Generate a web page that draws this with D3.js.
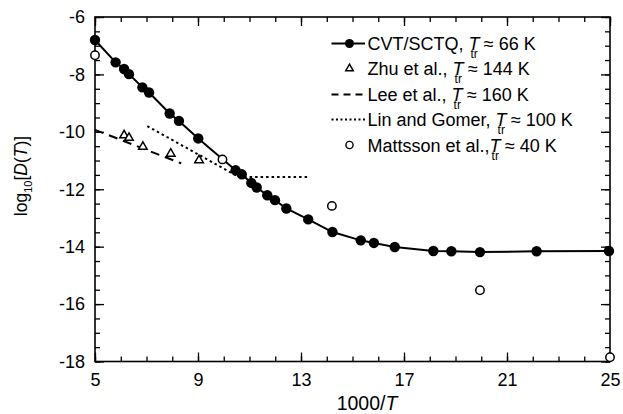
<!DOCTYPE html>
<html><head><meta charset="utf-8">
<script src="https://cdn.jsdelivr.net/npm/d3@7/dist/d3.min.js"></script>
<style>
body{margin:0;background:#fff;}
svg{display:block;font-family:"Liberation Sans",Arial,Helvetica,sans-serif;}
</style></head>
<body><svg id="c" width="623" height="414"></svg>
<script>
// ---- data ----
const cvtX = [5.0, 5.80, 6.13, 6.32, 6.84, 7.10, 7.90, 8.26, 9.01, 10.46, 10.70, 11.07, 11.28, 11.69, 11.99, 12.43, 13.28, 14.22, 15.32, 15.83, 16.64, 18.14, 18.84, 19.95, 22.15, 24.96];
const cvtY = [-6.80, -7.58, -7.81, -7.99, -8.45, -8.63, -9.36, -9.62, -10.23, -11.34, -11.48, -11.78, -11.94, -12.21, -12.38, -12.67, -13.05, -13.49, -13.78, -13.87, -14.01, -14.15, -14.16, -14.19, -14.16, -14.15];
const zhuX = [6.13, 6.32, 6.86, 7.94, 9.04];
const zhuY = [-10.12, -10.21, -10.52, -10.76, -10.99];
const leeX = [5.0, 8.35];
const leeY = [-9.93, -11.10];
const linX = [7.03, 10.58, 13.3];
const linY = [-9.80, -11.57, -11.57];
const matX = [5.0, 9.95, 14.2, 19.95, 25.0];
const matY = [-7.33, -10.96, -12.58, -15.52, -17.85];
const xMajor = [5, 9, 13, 17, 21, 25];
const yMajor = [-6, -8, -10, -12, -14, -16, -18];
const legendNames = ["CVT/SCTQ, ", "Zhu et al., ", "Lee et al., ", "Lin and Gomer, ", "Mattsson et al.,"];
const legendTemps = ["66 K", "144 K", "160 K", "100 K", "40 K"];
const legendKinds = ["cvt", "zhu", "lee", "lin", "mat"];

// ---- layout ----
const svg = d3.select("#c");
const L = 95, R = 610, T = 17, B = 361.5;
const x = d3.scaleLinear().domain([5, 25]).range([L, R]);
const y = d3.scaleLinear().domain([-18, -6]).range([B, T]);
const ink = "#000";
const tickFont = 18;

// frame
svg.append("rect").attr("x", L).attr("y", T).attr("width", R - L).attr("height", B - T)
  .attr("fill", "none").attr("stroke", ink).attr("stroke-width", 1.6);

function styleAxis(g) {
  g.select(".domain").remove();
  g.selectAll(".tick line").attr("stroke", ink).attr("stroke-width", 1.3);
  g.selectAll("text").attr("fill", ink).attr("font-size", tickFont)
    .text(function(){ return d3.select(this).text().replace("\u2212", "-"); });
}
const xMinor = d3.range(5, 25.001, 1);
const yMinor = d3.range(-18, -5.999, 0.5);

// bottom
svg.append("g").attr("transform", `translate(0,${B})`)
  .call(d3.axisBottom(x).tickValues(xMinor).tickSize(-5).tickFormat("")).call(styleAxis);
svg.append("g").attr("transform", `translate(0,${B})`)
  .call(d3.axisBottom(x).tickValues(xMajor).tickSize(-9).tickPadding(12).tickFormat(d3.format("d"))).call(styleAxis);
// top
svg.append("g").attr("transform", `translate(0,${T})`)
  .call(d3.axisTop(x).tickValues(xMinor).tickSize(-5).tickFormat("")).call(styleAxis);
svg.append("g").attr("transform", `translate(0,${T})`)
  .call(d3.axisTop(x).tickValues(xMajor).tickSize(-9).tickFormat("")).call(styleAxis);
// left
svg.append("g").attr("transform", `translate(${L},0)`)
  .call(d3.axisLeft(y).tickValues(yMinor).tickSize(-5).tickFormat("")).call(styleAxis);
svg.append("g").attr("transform", `translate(${L},0)`)
  .call(d3.axisLeft(y).tickValues(yMajor).tickSize(-9).tickPadding(10).tickFormat(d3.format("d"))).call(styleAxis);
// right
svg.append("g").attr("transform", `translate(${R},0)`)
  .call(d3.axisRight(y).tickValues(yMinor).tickSize(-5).tickFormat("")).call(styleAxis);
svg.append("g").attr("transform", `translate(${R},0)`)
  .call(d3.axisRight(y).tickValues(yMajor).tickSize(-9).tickFormat("")).call(styleAxis);

// ---- series ----
const line = d3.line().x(d => x(d[0])).y(d => y(d[1]));
const zip = (a, b) => a.map((v, i) => [v, b[i]]);

svg.append("path").datum(zip(leeX, leeY)).attr("d", line)
  .attr("fill", "none").attr("stroke", ink).attr("stroke-width", 2).attr("stroke-dasharray", "9,6");
svg.append("path").datum(zip(linX, linY)).attr("d", line)
  .attr("fill", "none").attr("stroke", ink).attr("stroke-width", 2).attr("stroke-dasharray", "2.5,3");
svg.append("path").datum(zip(cvtX, cvtY)).attr("d", line)
  .attr("fill", "none").attr("stroke", ink).attr("stroke-width", 2);
const tri = d3.symbol().type(d3.symbolTriangle).size(32);
svg.append("g").selectAll("path").data(zip(zhuX, zhuY)).join("path")
  .attr("d", tri).attr("transform", d => `translate(${x(d[0])},${y(d[1])})`)
  .attr("fill", "#fff").attr("stroke", ink).attr("stroke-width", 1.5);
svg.append("g").selectAll("circle").data(zip(cvtX, cvtY)).join("circle")
  .attr("cx", d => x(d[0])).attr("cy", d => y(d[1])).attr("r", 5.2).attr("fill", ink);
svg.append("g").selectAll("circle").data(zip(matX, matY)).join("circle")
  .attr("cx", d => x(d[0])).attr("cy", d => y(d[1])).attr("r", 4.2)
  .attr("fill", "#fff").attr("stroke", ink).attr("stroke-width", 1.5);

// ---- legend ----
const lg = svg.append("g");
const rowY = [43.5, 68.5, 94.5, 119.5, 145];
const sx0 = 331.5, sx1 = 365, scx = 349.5, tx = 367.5;
legendKinds.forEach((kind, i) => {
  const yy = rowY[i];
  if (kind === "cvt") {
    lg.append("line").attr("x1", sx0).attr("x2", sx1).attr("y1", yy).attr("y2", yy).attr("stroke", ink).attr("stroke-width", 2);
    lg.append("circle").attr("cx", scx).attr("cy", yy).attr("r", 4.5).attr("fill", ink);
  } else if (kind === "zhu") {
    lg.append("path").attr("d", d3.symbol().type(d3.symbolTriangle).size(24)).attr("transform", `translate(${scx},${yy})`)
      .attr("fill", "#fff").attr("stroke", ink).attr("stroke-width", 1.5);
  } else if (kind === "lee") {
    lg.append("line").attr("x1", sx0).attr("x2", sx1).attr("y1", yy).attr("y2", yy).attr("stroke", ink).attr("stroke-width", 2).attr("stroke-dasharray", "7,5");
  } else if (kind === "lin") {
    lg.append("line").attr("x1", sx0).attr("x2", sx1).attr("y1", yy).attr("y2", yy).attr("stroke", ink).attr("stroke-width", 2).attr("stroke-dasharray", "2,2.5");
  } else {
    lg.append("circle").attr("cx", scx).attr("cy", yy).attr("r", 3.6).attr("fill", "#fff").attr("stroke", ink).attr("stroke-width", 1.4);
  }
  const t = lg.append("text").attr("x", tx).attr("y", yy + 6.5).attr("font-size", 18).attr("fill", ink);
  t.append("tspan").text(legendNames[i]);
  t.append("tspan").attr("font-style", "italic").text("T");
  t.append("tspan").attr("font-size", 12).attr("dx", -9).attr("dy", 8).text("tr");
  t.append("tspan").attr("dy", -8).attr("dx", 1).text(" \u2248 " + legendTemps[i]);
});

// ---- axis titles ----
const xt = svg.append("text").attr("x", 367).attr("y", 410).attr("text-anchor", "middle").attr("font-size", 19.5).attr("fill", ink);
xt.append("tspan").text("1000/");
xt.append("tspan").attr("font-style", "italic").text("T");

const yt = svg.append("text").attr("transform", "translate(27,176) rotate(-90)").attr("text-anchor", "middle").attr("font-size", 17.5).attr("fill", ink);
yt.append("tspan").text("log");
yt.append("tspan").attr("font-size", 11).attr("dy", 5).text("10");
yt.append("tspan").attr("dy", -5).text("[");
yt.append("tspan").attr("font-style", "italic").text("D");
yt.append("tspan").text("(");
yt.append("tspan").attr("font-style", "italic").text("T");
yt.append("tspan").text(")]");
</script></body></html>
